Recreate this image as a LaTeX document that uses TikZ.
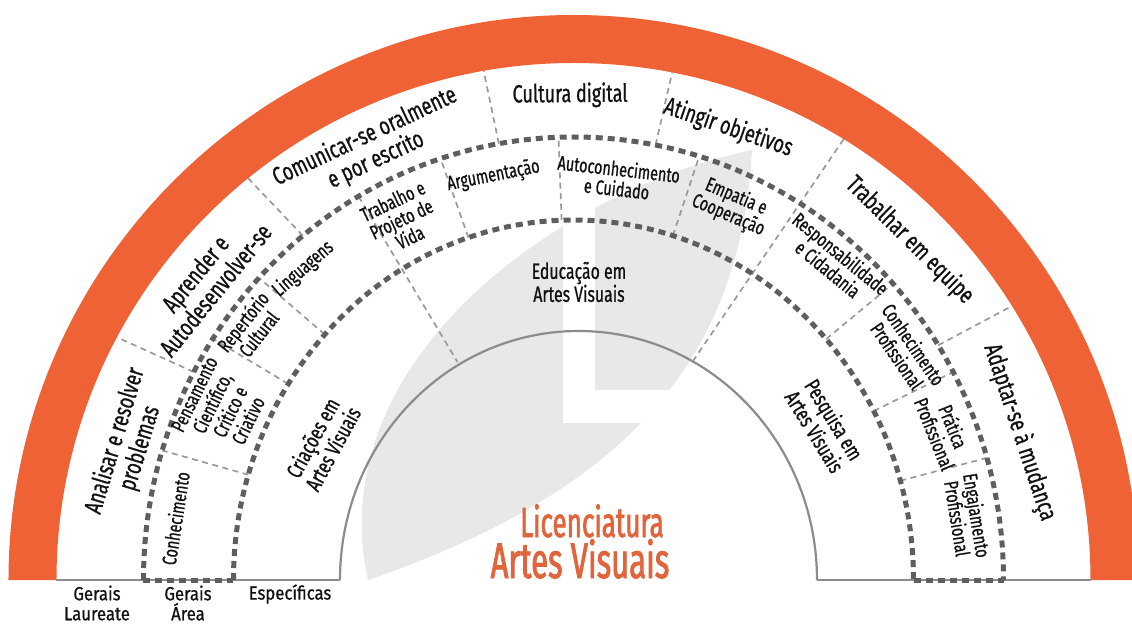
\documentclass[tikz,border=0pt]{standalone}
\usepackage{fontspec}
\setmainfont{Fira Sans}[FakeStretch=0.72,FakeBold=0.8]
\newfontfamily\widefont{Fira Sans}[FakeStretch=0.88,FakeBold=0.8]
\newfontfamily\titlefont{Fira Sans}[FakeStretch=0.62,FakeBold=1.6]
\definecolor{orng}{HTML}{EE6236}
\definecolor{leafgray}{HTML}{E8E8E8}
\definecolor{thickgray}{HTML}{5E5E5E}
\definecolor{thingray}{HTML}{9A9A9A}
\definecolor{lineg}{HTML}{8C8C8C}
\definecolor{ttl}{HTML}{E0643C}
\definecolor{labk}{HTML}{111111}
\begin{document}
\begin{tikzpicture}[x=1pt,y=1pt,
  thickdash/.style={draw=thickgray,line width=5pt,dash pattern=on 7pt off 5pt},
  thindash/.style={draw=thingray,line width=1.7pt,dash pattern=on 6pt off 4.5pt},
  outerlab/.style={font=\fontsize{25}{26}\selectfont,align=center,text=labk,inner sep=0pt},
  midlab/.style={font=\fontsize{20}{20}\selectfont,align=center,text=labk,inner sep=0pt},
  innerlab/.style={font=\fontsize{22}{23}\selectfont,align=center,text=labk,inner sep=0pt},
  baselab/.style={font=\widefont\fontsize{19}{20}\selectfont,align=center,text=labk,inner sep=0pt},
  titlelab/.style={text=ttl,anchor=base,inner sep=0pt}]
\clip (-573.5,-44) rectangle (558.5,580);
% background logo leaf
\fill[leafgray] (-205.5,0) .. controls (-253.5,220) and (-13.5,390) .. (178.5,430)
   .. controls (166.5,200) and (26.5,80) .. (-205.5,0) -- cycle;
\fill[white] (-10.5,157) rectangle (21.5,445);
\fill[white] (-10.5,157) rectangle (200,190);
% orange ring
\fill[orng] (565,0) arc[start angle=0,end angle=180,radius=565] -- (-517,0)
   arc[start angle=180,end angle=0,radius=517] -- cycle;
% base line and inner circle
\draw[lineg,line width=2pt] (-517,0) -- (-233.5,0);
\draw[lineg,line width=2pt] (243.5,0) -- (517,0);
\draw[lineg,line width=2.2pt] (-233.5,0) arc[start angle=180,end angle=0,x radius=238.5,y radius=249];
% thin dividers
\foreach \a in {152,129,100,79,32}
  \draw[thindash] ({430*cos(\a)},{443*sin(\a)}) -- (\a:517);
\foreach \a in {163,147,137,108,92,73,42,28,16}
  \draw[thindash] ({340*cos(\a)},{360*sin(\a)}) -- ({430*cos(\a)},{443*sin(\a)});
\draw[thindash] (-215,383.6) -- (-116,218);
\draw[thindash] (58.5:517) -- (119.2,218.6);
% thick dashed bands
\draw[thickdash] (-430,0) arc[start angle=180,end angle=0,x radius=430,y radius=443];
\draw[thickdash] (-340,0) arc[start angle=180,end angle=0,x radius=340,y radius=360];
\draw[thickdash] (-430,0) -- (-340,0);
\draw[thickdash] (340,0) -- (430,0);
% outer band labels
\node[outerlab,rotate=73.1] (analisar) at (163.1:466) {Analisar e resolver\\problemas};
\node[outerlab,rotate=51] (aprender) at (141:474) {Aprender e\\Autodesenvolver-se};
\node[outerlab,rotate=25.2] (comunicar) at (115.2:477) {Comunicar-se oralmente\\e por escrito};
\node[outerlab,rotate=0.4] (cultura) at (90.4:485) {Cultura digital};
\node[outerlab,rotate=-18.9] (atingir) at (71.1:478) {Atingir objetivos};
\node[outerlab,rotate=-44.7] (trabalhar) at (45.3:478) {Trabalhar em equipe};
\node[outerlab,rotate=-71.7] (adaptar) at (18.3:470) {Adaptar-se à mudança};
% middle band labels
\node[midlab,rotate=81.2] (conh) at (171.2:403) {Conhecimento};
\node[midlab,rotate=63.9] (pens) at (153.9:392) {Pensamento\\Científico,\\Crítico e\\Criativo};
\node[midlab,rotate=52] (repert) at (142:410) {Repertório\\Cultural};
\node[midlab,rotate=41] (ling) at (131:412) {Linguagens};
\node[midlab,rotate=25.5] (trabv) at (115.5:400) {Trabalho e\\Projeto de\\Vida};
\node[midlab,rotate=11.2] (argum) at (101.2:412) {Argumentação};
\node[midlab,rotate=-6.3] (autoc) at (83.7:404) {Autoconhecimento\\e Cuidado};
\node[midlab,rotate=-23] (empat) at (67:406) {Empatia e\\Cooperação};
\node[midlab,rotate=-39.3] (respon) at (50.7:412) {Responsabilidade\\e Cidadania};
\node[midlab,rotate=-55.3] (conhp) at (34.7:404) {Conhecimento\\Profissional};
\node[midlab,rotate=-68] (pratp) at (22:400) {Prática\\Profissional};
\node[midlab,rotate=-80.9] (engp) at (9.1:399) {Engajamento\\Profissional};
% inner band labels
\node[innerlab,rotate=61.4] (criac) at (151.4:286) {Criações em\\Artes Visuais};
\node[innerlab] (educ) at (5.5,298) {Educação em\\Artes Visuais};
\node[innerlab,rotate=-58.4] (pesq) at (31.6:295) {Pesquisa em\\Artes Visuais};
% title
\node[titlelab,font=\titlefont\fontsize{42}{42}\selectfont] (lic) at (18.5,43) {Licenciatura};
\node[titlelab,font=\titlefont\fontsize{50}{50}\selectfont] (artes) at (6.5,2) {Artes Visuais};
% bottom labels
\node[baselab] (gerlau) at (-476.5,-23) {Gerais\\Laureate};
\node[baselab] (gerarea) at (-385.5,-23) {Gerais\\Área};
\node[baselab] (especif) at (-283.5,-14) {Específicas};
\end{tikzpicture}
\end{document}
